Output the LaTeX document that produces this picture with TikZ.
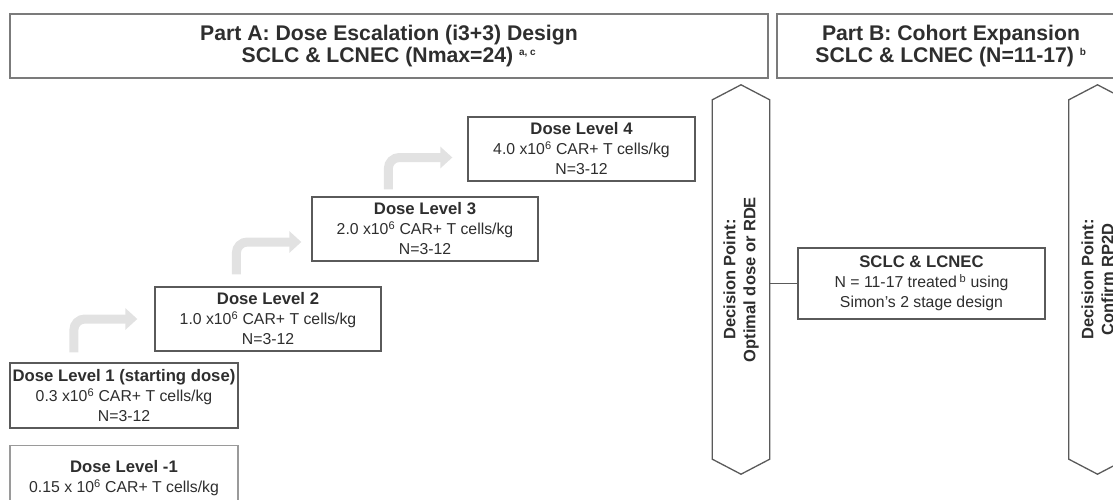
\documentclass[tikz,border=0pt]{standalone}
\usepackage{fontspec}
\setmainfont{Liberation Sans}
\usetikzlibrary{arrows.meta,calc}
\definecolor{bordergray}{HTML}{5A5A5A}
\definecolor{lightborder}{HTML}{9A9A9A}
\definecolor{txtgray}{HTML}{2E2E2E}
\definecolor{arrowgray}{HTML}{E2E2E2}
\newcommand{\ttl}[1]{{\bfseries\fontsize{16.7}{20}\selectfont #1}}
\tikzset{
  headbox/.style={draw=bordergray!80, line width=1.6pt, fill=white, text=txtgray, align=center,
    font=\bfseries\fontsize{21.2}{22.5}\selectfont, inner sep=0pt},
  dosebox/.style={draw=bordergray, line width=1.3pt, fill=white, text=txtgray, align=center,
    font=\fontsize{15.8}{20}\selectfont, inner sep=0pt, minimum height=64pt},
  bentarrow/.style={draw=arrowgray, line width=9pt, rounded corners=11pt,
    -{Triangle[width=21pt,length=12pt]}},
  hexline/.style={draw=bordergray, line width=1.3pt, fill=white},
  hextext/.style={text=txtgray, align=center, rotate=90, font=\bfseries\fontsize{16.5}{20}\selectfont},
  link/.style={draw=bordergray, line width=1.3pt}
}
\begin{document}
\begin{tikzpicture}[x=1pt,y=-1pt]
\useasboundingbox (0,0) rectangle (1113,500);

% headers
\node[headbox, minimum width=758pt, minimum height=64pt] (partA) at (389,46)
  {Part A: Dose Escalation (i3+3) Design\\SCLC \& LCNEC (Nmax=24) \textsuperscript{\fontsize{10}{10}\selectfont a, c}};
\node[headbox, minimum width=348pt, minimum height=64pt] (partB) at (951,46)
  {Part B: Cohort Expansion\\SCLC \& LCNEC (N=11-17) \textsuperscript{\fontsize{10}{10}\selectfont b}};

% dose levels
\node[dosebox, minimum width=227pt] (dl4) at (581.5,149)
  {\ttl{Dose Level 4}\\4.0 x10\textsuperscript{6} CAR+ T cells/kg\\N=3-12};
\node[dosebox, minimum width=226pt] (dl3) at (425,229)
  {\ttl{Dose Level 3}\\2.0 x10\textsuperscript{6} CAR+ T cells/kg\\N=3-12};
\node[dosebox, minimum width=226pt] (dl2) at (268,319)
  {\ttl{Dose Level 2}\\1.0 x10\textsuperscript{6} CAR+ T cells/kg\\N=3-12};
\node[dosebox, minimum width=228pt, minimum height=65pt] (dl1) at (124,395.5)
  {\ttl{Dose Level 1 (starting dose)}\\0.3 x10\textsuperscript{6} CAR+ T cells/kg\\N=3-12};
\node[dosebox, draw=lightborder, minimum width=228pt, minimum height=80pt, anchor=north] (dlm1) at (124,445) {};
\node[text=txtgray, align=center, font=\fontsize{15.8}{20}\selectfont, anchor=north] (dlm1t) at ($(dlm1.north)+(0,12)$)
  {\ttl{Dose Level -1}\\0.15 x 10\textsuperscript{6} CAR+ T cells/kg};

% escalation arrows
\draw[bentarrow] ($(dl1.north west)+(64.5,-10)$) |- ($(dl2.west)+(-17,0)$);
\draw[bentarrow] ($(dl2.north west)+(82,-12)$) |- ($(dl3.west)+(-10,13)$);
\draw[bentarrow] ($(dl3.north west)+(77,-7)$) |- ($(dl4.west)+(-15,8.5)$);

% decision point 1
\node[minimum width=57pt, minimum height=389pt, inner sep=0pt] (dp1) at (741,279.5) {};
\draw[hexline] (dp1.north) -- ($(dp1.north east)+(0,15)$) -- ($(dp1.south east)+(0,-15)$)
  -- (dp1.south) -- ($(dp1.south west)+(0,-15)$) -- ($(dp1.north west)+(0,15)$) -- cycle;
\node[hextext] (dp1t) at (dp1.center) {Decision Point:\\Optimal dose or RDE};

% decision point 2
\node[minimum width=57pt, minimum height=389pt, inner sep=0pt] (dp2) at (1097.5,279.5) {};
\draw[hexline] (dp2.north) -- ($(dp2.north east)+(0,15)$) -- ($(dp2.south east)+(0,-15)$)
  -- (dp2.south) -- ($(dp2.south west)+(0,-15)$) -- ($(dp2.north west)+(0,15)$) -- cycle;
\node[hextext] (dp2t) at (dp2.center) {Decision Point:\\Confirm RP2D};

% cohort expansion
\node[dosebox, minimum width=247pt, minimum height=71pt] (sclc) at (921.5,283.5)
  {\ttl{SCLC \& LCNEC}\\N = 11-17 treated\,\textsuperscript{b} using\\Simon's 2 stage design};
\draw[link] (dp1.east |- sclc.west) -- (sclc.west);
\end{tikzpicture}
\end{document}
